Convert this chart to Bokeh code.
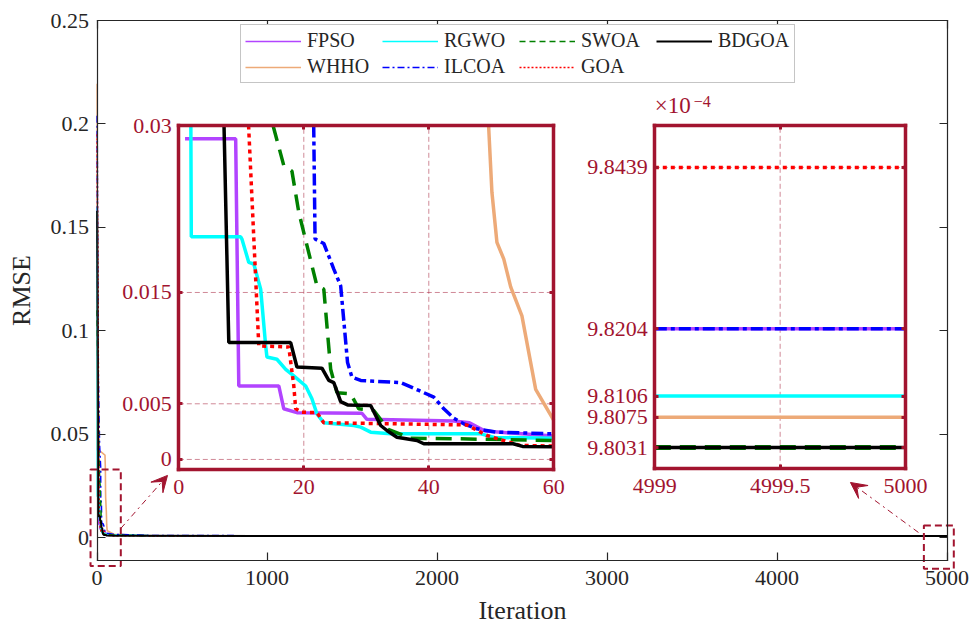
import math
import numpy as np
from bokeh.plotting import figure
from bokeh.models import (LinearAxis, Range1d, FixedTicker, CustomJSTickFormatter,
                          Legend, LegendItem, Arrow, VeeHead, Label)
from bokeh.core.properties import value
from bokeh.embed import file_html
from bokeh.resources import INLINE

# ---------------- data ----------------
ALGORITHMS = ["FPSO", "WHHO", "RGWO", "ILCOA", "SWOA", "GOA", "BDGOA"]

FPSO_IT = [1, 9.1, 9.6, 16.0, 16.8, 18.9, 29.3, 30.1, 44.0, 46.5, 49.0, 60, 100, 300, 1500, 5000]
FPSO_RMSE = [0.0288, 0.0288, 0.0066, 0.0066, 0.00455, 0.0042, 0.00415, 0.0036, 0.00345, 0.0033,
             0.00255, 0.0021, 0.0016, 0.00115, 9.8204e-4, 9.8204e-4]

WHHO_IT = [1, 2, 20, 47, 49.3, 50.1, 50.9, 52.0, 53.1, 54.9, 55.7, 57.1, 60, 100, 300, 1500, 5000]
WHHO_RMSE = [0.2195, 0.0425, 0.0418, 0.040, 0.033, 0.024, 0.0195, 0.018, 0.0155, 0.0129, 0.0105,
             0.0063, 0.0035, 0.0018, 0.0012, 9.8075e-4, 9.8075e-4]

RGWO_IT = [1, 2, 9.9, 10.1, 11.2, 12.0, 13.1, 13.9, 14.1, 15.7, 17.1, 18.4, 20.3, 21.3, 22.1, 23.2,
           28.0, 29.1, 30.7, 33.9, 48.3, 50.5, 60, 100, 300, 1500, 5000]
RGWO_RMSE = [0.160, 0.0200, 0.0200, 0.0198, 0.0177, 0.01756, 0.0153, 0.0102, 0.0092, 0.0090, 0.0081,
             0.0075, 0.0066, 0.00545, 0.0041, 0.0033, 0.00305, 0.0029, 0.00245, 0.0023, 0.0023,
             0.00198, 0.0019, 0.0015, 0.0011, 9.8106e-4, 9.8106e-4]

ILCOA_IT = [1, 5, 15, 21.5, 21.8, 23.2, 24.8, 25.9, 27.0, 27.7, 29.1, 35.5, 38.4, 40.8, 42.4, 44.0,
            45.6, 47.7, 50.9, 60, 100, 300, 1500, 5000]
ILCOA_RMSE = [0.204, 0.090, 0.045, 0.034, 0.0198, 0.0194, 0.0171, 0.0156, 0.0087, 0.0074, 0.0071,
              0.0069, 0.0062, 0.0056, 0.00455, 0.0037, 0.0032, 0.00275, 0.00245, 0.0023, 0.0017,
              0.00118, 9.8204e-4, 9.8204e-4]

SWOA_IT = [1, 10, 14.6, 16.8, 18.1, 19.2, 22.1, 23.2, 24.3, 25.3, 27.5, 28.8, 31.2, 33.5, 37.1, 45,
           60, 100, 300, 1500, 5000]
SWOA_RMSE = [0.110, 0.047, 0.031, 0.0264, 0.0259, 0.0222, 0.0156, 0.0153, 0.0081, 0.0060, 0.0059,
             0.00455, 0.0044, 0.0027, 0.0019, 0.00185, 0.0017, 0.0013, 0.00105, 9.8031e-4, 9.8031e-4]

GOA_IT = [1, 11, 12.8, 17.6, 18.4, 18.7, 19.7, 22.1, 23.2, 46.1, 49.3, 54.6, 60, 100, 300, 1500, 5000]
GOA_RMSE = [0.195, 0.032, 0.0102, 0.0101, 0.0066, 0.00455, 0.00425, 0.0042, 0.0033, 0.0031, 0.00215,
            0.00126, 0.0012, 0.0011, 0.00102, 9.8439e-4, 9.8439e-4]

BDGOA_IT = [1, 7, 8, 17.9, 18.9, 22.9, 24.0, 24.8, 25.9, 27.0, 30.7, 32.3, 33.3, 34.9, 38.1, 39.2,
            53.5, 55, 60, 100, 300, 1500, 5000]
BDGOA_RMSE = [0.158, 0.036, 0.0105, 0.0105, 0.0083, 0.0082, 0.0071, 0.0069, 0.0052, 0.0049, 0.00485,
              0.00305, 0.0026, 0.0020, 0.0017, 0.00141, 0.00141, 0.00117, 0.00115, 0.00106, 0.0010,
              9.8031e-4, 9.8031e-4]

SERIES = {
    "FPSO": (FPSO_IT, FPSO_RMSE), "WHHO": (WHHO_IT, WHHO_RMSE), "RGWO": (RGWO_IT, RGWO_RMSE),
    "ILCOA": (ILCOA_IT, ILCOA_RMSE), "SWOA": (SWOA_IT, SWOA_RMSE), "GOA": (GOA_IT, GOA_RMSE),
    "BDGOA": (BDGOA_IT, BDGOA_RMSE),
}
LEGEND_ORDER = ["FPSO", "RGWO", "SWOA", "BDGOA", "WHHO", "ILCOA", "GOA"]

MAIN_XTICKS = [0, 1000, 2000, 3000, 4000, 5000]
MAIN_YTICKS = [0, 0.05, 0.1, 0.15, 0.2, 0.25]
LEFT_XTICKS = [0, 20, 40, 60]
LEFT_YTICKS = [0, 0.005, 0.015, 0.03]
RIGHT_XTICKS = [4999, 4999.5, 5000]
RIGHT_YTICKS = [9.8031e-4, 9.8075e-4, 9.8106e-4, 9.8204e-4, 9.8439e-4]

# ---------------- limits & layout ----------------
W, H = 970, 627
MAIN_XLIM, MAIN_YLIM = (0, 5000), (-0.0109, 0.25)
LEFT_XLIM, LEFT_YLIM = (0, 60), (-0.00093, 0.03)
RIGHT_XLIM, RIGHT_YLIM = (4999, 5000), (9.80e-4, 9.85e-4)
# pixel boxes: left, right, top, bottom
MAIN_BOX = (96.5, 946.5, 20, 560)
LEFT_BOX = (178.3, 553.3, 125, 469.3)
RIGHT_BOX = (654.3, 905, 125, 468.3)
# zoom markers (main data coordinates)
ZOOM_L = dict(left=-38, right=140, bottom=-0.0136, top=0.0331)
ZOOM_R = dict(left=4864, right=5040, bottom=-0.0149, top=0.0060)

DARK = "#A2142F"
FONT = "Liberation Serif"
STYLES = {
    "FPSO": ("#B244FF", "solid", "solid"),
    "WHHO": ("#EDAA78", "solid", "solid"),
    "RGWO": ("#00FFFF", "solid", "solid"),
    "ILCOA": ("#0000FF", "7 3 2 3", "12 4 4 4"),
    "SWOA": ("#008000", "6 4", "16 9"),
    "GOA": ("#FF0000", "2 2", "4 4"),
    "BDGOA": ("#000000", "solid", "solid"),
}


def fit(lim, p_lo, p_hi, size):
    lo, hi = lim
    k = (hi - lo) / (p_hi - p_lo)
    return Range1d(start=lo - p_lo * k, end=hi + (size - p_hi) * k)


def xr(lim, box):
    return fit(lim, box[0], box[1], W)


def yr(lim, box):
    return fit(lim, H - box[3], H - box[2], H)


def clip_segment(x0, y0, x1, y1, xlim, ylim):
    dx, dy = x1 - x0, y1 - y0
    t0, t1 = 0.0, 1.0
    for pp, q in ((-dx, x0 - xlim[0]), (dx, xlim[1] - x0), (-dy, y0 - ylim[0]), (dy, ylim[1] - y0)):
        if pp == 0:
            if q < 0:
                return None
        else:
            t = q / pp
            if pp < 0:
                if t > t1:
                    return None
                t0 = max(t0, t)
            else:
                if t < t0:
                    return None
                t1 = min(t1, t)
    return (x0 + t0 * dx, y0 + t0 * dy, t0), (x0 + t1 * dx, y0 + t1 * dy, t1)


def clip_polyline(xs, ys, xlim, ylim):
    ox, oy = [], []
    cont = False
    for i in range(len(xs) - 1):
        seg = clip_segment(xs[i], ys[i], xs[i + 1], ys[i + 1], xlim, ylim)
        if seg is None:
            cont = False
            continue
        a, b = seg
        if not (cont and a[2] == 0.0):
            if ox:
                ox.append(np.nan)
                oy.append(np.nan)
            ox.append(a[0])
            oy.append(a[1])
        ox.append(b[0])
        oy.append(b[1])
        cont = b[2] == 1.0
    return np.array(ox, dtype=float), np.array(oy, dtype=float)


p = figure(width=W, height=H, x_range=xr(MAIN_XLIM, MAIN_BOX), y_range=yr(MAIN_YLIM, MAIN_BOX),
           min_border=0, x_axis_location=None, y_axis_location=None, toolbar_location=None,
           output_backend="svg", title=None)
p.outline_line_color = None
p.background_fill_color = "white"
p.border_fill_color = "white"
p.grid.visible = False
p.extra_x_ranges = {"lx": xr(LEFT_XLIM, LEFT_BOX), "rx": xr(RIGHT_XLIM, RIGHT_BOX)}
p.extra_y_ranges = {"ly": yr(LEFT_YLIM, LEFT_BOX), "ry": yr(RIGHT_YLIM, RIGHT_BOX)}

trim = CustomJSTickFormatter(code="return String(+tick.toFixed(6));")
blank = CustomJSTickFormatter(code="return '';")
e4 = CustomJSTickFormatter(code="return (tick*1e4).toFixed(4);")


def add_axis(side, fixed, bounds, ticks, xname="default", yname="default", color="#262626",
             lw=1.2, tick_in=8, tick_w=1.2, fmt=None, label=None, standoff=8, label_standoff=10,
             size="22px"):
    ax = LinearAxis(fixed_location=fixed, bounds=bounds, ticker=FixedTicker(ticks=ticks),
                    x_range_name=xname, y_range_name=yname,
                    formatter=fmt if fmt is not None else blank)
    ax.axis_line_color = color
    ax.axis_line_width = lw
    ax.axis_line_cap = "square"
    ax.major_tick_line_color = color
    ax.major_tick_line_width = tick_w
    ax.major_tick_in = tick_in
    ax.major_tick_out = 0
    ax.minor_tick_line_color = None
    ax.major_label_text_color = color
    ax.major_label_text_font = FONT
    ax.major_label_text_font_size = size
    ax.major_label_standoff = standoff
    if label:
        ax.axis_label = label
        ax.axis_label_text_font = FONT
        ax.axis_label_text_font_size = "26px"
        ax.axis_label_text_font_style = "normal"
        ax.axis_label_text_color = color
        ax.axis_label_standoff = label_standoff
    p.add_layout(ax, side)
    return ax


# ---- main plot lines ----
main_r = {}
for name in ALGORITHMS:
    it, val = SERIES[name]
    col, dash_main, _ = STYLES[name]
    main_r[name] = p.line(it, val, line_color=col, line_dash=dash_main,
                          line_width=2 if name == "BDGOA" else 1.6)

# ---- zoom markers ----
for zb in (ZOOM_L, ZOOM_R):
    p.quad(left=zb["left"], right=zb["right"], bottom=zb["bottom"], top=zb["top"],
           fill_color=None, line_color=DARK, line_width=2, line_dash="7 4")

# ---- insets ----
for xname, yname, xlim, ylim, xt, yt in (("lx", "ly", LEFT_XLIM, LEFT_YLIM, LEFT_XTICKS, LEFT_YTICKS),
                                          ("rx", "ry", RIGHT_XLIM, RIGHT_YLIM, RIGHT_XTICKS, RIGHT_YTICKS)):
    p.quad(left=xlim[0], right=xlim[1], bottom=ylim[0], top=ylim[1], fill_color="white",
           line_color=None, x_range_name=xname, y_range_name=yname)
    gx = [t for t in xt if xlim[0] < t < xlim[1]]
    gy = [t for t in yt if ylim[0] < t < ylim[1]]
    p.segment(x0=gx, y0=[ylim[0]] * len(gx), x1=gx, y1=[ylim[1]] * len(gx),
              line_color=DARK, line_alpha=0.5, line_width=1, line_dash="5 3",
              x_range_name=xname, y_range_name=yname)
    p.segment(x0=[xlim[0]] * len(gy), y0=gy, x1=[xlim[1]] * len(gy), y1=gy,
              line_color=DARK, line_alpha=0.5, line_width=1, line_dash="5 3",
              x_range_name=xname, y_range_name=yname)
    for name in ALGORITHMS:
        it, val = SERIES[name]
        col, _, dash_in = STYLES[name]
        cx, cy = clip_polyline(it, val, xlim, ylim)
        if len(cx):
            wide = name == "SWOA" and xname == "rx"
            p.line(cx, cy, line_color=col, line_dash=dash_in,
                   line_width=5 if wide else 3.5,
                   x_range_name=xname, y_range_name=yname)

# ---- main axes ----
add_axis("below", MAIN_YLIM[0], MAIN_XLIM, MAIN_XTICKS, fmt=trim, label="Iteration",
         standoff=10, label_standoff=8)
add_axis("above", MAIN_YLIM[1], MAIN_XLIM, MAIN_XTICKS)
add_axis("left", MAIN_XLIM[0], MAIN_YLIM, MAIN_YTICKS, fmt=trim, label="RMSE",
         standoff=8, label_standoff=12)
add_axis("right", MAIN_XLIM[1], MAIN_YLIM, MAIN_YTICKS)

# ---- inset axes ----
for xname, yname, xlim, ylim, xt, yt, yfmt in (
        ("lx", "ly", LEFT_XLIM, LEFT_YLIM, LEFT_XTICKS, LEFT_YTICKS, trim),
        ("rx", "ry", RIGHT_XLIM, RIGHT_YLIM, RIGHT_XTICKS, RIGHT_YTICKS, e4)):
    kw = dict(xname=xname, yname=yname, color=DARK, lw=3.5, tick_in=4, tick_w=3)
    add_axis("below", ylim[0], xlim, xt, fmt=trim, standoff=10, **kw)
    add_axis("above", ylim[1], xlim, xt, **kw)
    add_axis("left", xlim[0], ylim, yt, fmt=yfmt, standoff=7, **kw)
    add_axis("right", xlim[1], ylim, yt, **kw)

p.add_layout(Label(x=RIGHT_XLIM[0], y=RIGHT_YLIM[1], x_range_name="rx", y_range_name="ry",
                   text="×10", x_offset=0, y_offset=8, text_font=FONT, text_font_size="23px",
                   text_color=DARK, text_baseline="bottom", text_align="left"))
p.add_layout(Label(x=RIGHT_XLIM[0], y=RIGHT_YLIM[1], x_range_name="rx", y_range_name="ry",
                   text="−4", x_offset=39, y_offset=19, text_font=FONT, text_font_size="16px",
                   text_color=DARK, text_baseline="bottom", text_align="left"))

# ---- arrows (main data coordinates) ----
for xs, ys, xe, ye in ((ZOOM_L["right"], 0.0046, 414.7, 0.0302),
                       (4832, 0.00265, 4432, 0.0268)):
    p.add_layout(Arrow(x_start=xs, y_start=ys, x_end=xe, y_end=ye, line_color=DARK,
                       line_width=1, line_dash="dashdot",
                       end=VeeHead(size=16, fill_color=DARK, line_color=DARK)))

# ---- legend ----
legend = Legend(items=[LegendItem(label=n, renderers=[main_r[n]]) for n in LEGEND_ORDER],
                orientation="horizontal", ncols=4, location=(240, H - 83),
                glyph_width=56, glyph_height=20, label_height=20, label_width=72,
                label_standoff=6, spacing=3, padding=4, margin=0,
                label_text_font=FONT, label_text_font_size="20px", label_text_color="#262626",
                border_line_color="#8c8c8c", border_line_width=1, background_fill_alpha=1)
p.add_layout(legend)

open("out.html", "w").write(file_html(p, INLINE))
